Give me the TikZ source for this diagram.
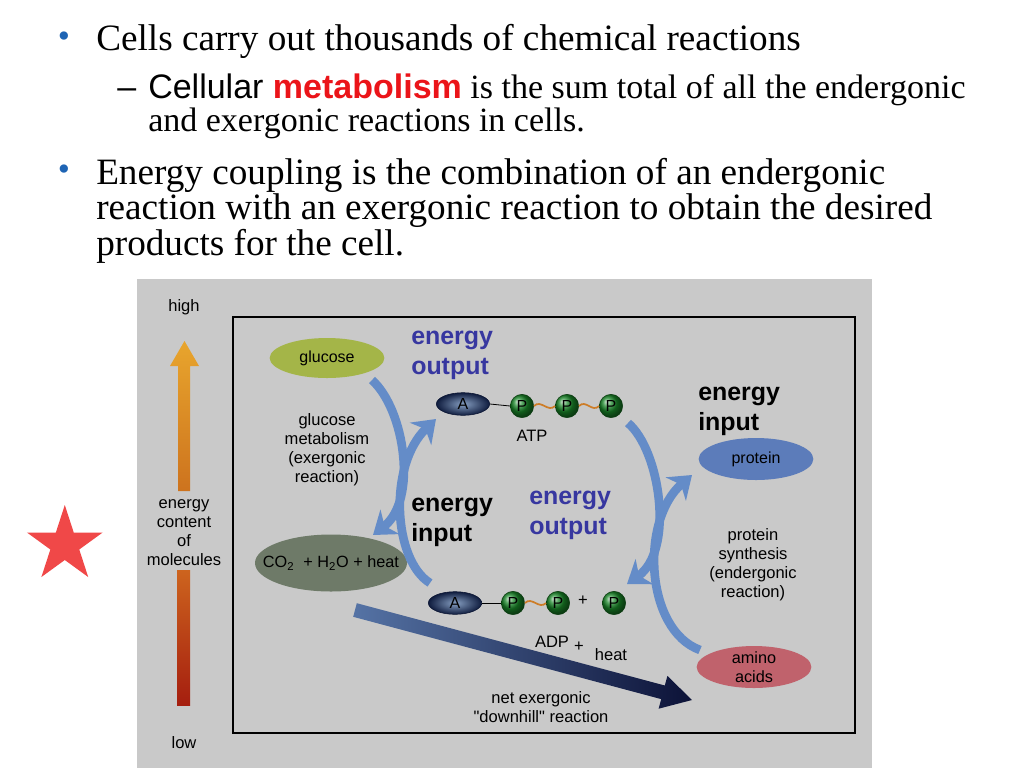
\documentclass[tikz,border=0pt]{standalone}
\usepackage{fontspec}
\setmainfont{Liberation Serif}
\newfontfamily\arial{Liberation Sans}
\usetikzlibrary{shapes.geometric,arrows.meta,calc}
\definecolor{panel}{RGB}{201,201,201}
\definecolor{bulletblue}{RGB}{30,100,180}
\definecolor{metared}{RGB}{235,20,25}
\definecolor{eblue}{RGB}{55,55,160}
\definecolor{flowblue}{RGB}{100,140,200}
\definecolor{glucosecol}{RGB}{164,181,72}
\definecolor{cocol}{RGB}{110,122,104}
\definecolor{proteincol}{RGB}{92,124,186}
\definecolor{aminocol}{RGB}{192,98,108}
\definecolor{starcol}{RGB}{240,72,72}
\definecolor{wavecol}{RGB}{205,125,40}
\definecolor{pgreen}{RGB}{25,135,40}
\begin{document}
\begin{tikzpicture}[x=0.75pt,y=-0.75pt,
  bigtxt/.style={anchor=base west,inner sep=0pt,font=\fontsize{27.9}{30}\selectfont},
  subtxt/.style={anchor=base west,inner sep=0pt,font=\fontsize{25.5}{27}\selectfont},
  bul/.style={anchor=center,inner sep=0pt,text=bulletblue,font=\fontsize{26}{26}\selectfont},
  lbl/.style={anchor=base,inner sep=0pt,font=\arial\fontsize{12.4}{14}\selectfont},
  elab/.style={anchor=base west,inner sep=0pt,font=\arial\bfseries\fontsize{18.7}{20}\selectfont},
  blob/.style={ellipse,inner sep=0pt,font=\arial\fontsize{12}{13}\selectfont},
  anode/.style={ellipse,inner sep=0pt,minimum width=40pt,minimum height=17pt,
     inner color={rgb,255:red,135;green,160;blue,195},outer color={rgb,255:red,15;green,28;blue,62},
     draw={rgb,255:red,10;green,20;blue,50},font=\arial\fontsize{12}{12}\selectfont},
  pnode/.style={circle,inner sep=0pt,minimum size=17.5pt,ball color=pgreen,
     draw={rgb,255:red,10;green,60;blue,15},line width=0.4pt,
     font=\arial\fontsize{12}{12}\selectfont},
  flow/.style={line width=6.5pt,draw=flowblue,-{Stealth[length=16pt,width=23pt,inset=5pt]}},
  link/.style={line width=0.6pt,draw=black},
  wave/.style={line width=1.3pt,draw=wavecol}]
\useasboundingbox (0,0) rectangle (1024,768);
\fill[white] (0,0) rectangle (1024,768);

% ---------- text ----------
\node[bul] (b1) at (64,40) {•};
\node[bigtxt] (t1) at (96,50) {Cells carry out thousands of chemical reactions};
\node[anchor=base west,inner sep=0pt,font=\arial\fontsize{25.5}{27}\selectfont] (d1) at (117,98) {–};
\node[subtxt] (t2) at (148,98) {{\arial Cellular \textcolor{metared}{\bfseries metabolism}} is the sum total of all the endergonic};
\node[subtxt] (t3) at (148,131) {and exergonic reactions in cells.};
\node[bul] (b2) at (64,173) {•};
\node[bigtxt] (t4) at (96,184) {Energy coupling is the combination of an endergonic};
\node[bigtxt] (t5) at (96,219) {reaction with an exergonic reaction to obtain the desired};
\node[bigtxt] (t6) at (96,255) {products for the cell.};

% ---------- panel ----------
\fill[panel] (137,279) rectangle (872,768);
\draw[line width=0.9pt] (233,317) rectangle (855,733);

% energy scale
\node[lbl] (high) at (184,311) {high};
\node[lbl] (low) at (184,748) {low};
\shade[top color={rgb,255:red,232;green,165;blue,45},bottom color={rgb,255:red,205;green,115;blue,30}]
  (178,491) -- (178,366) -- (170,366) -- (184.5,341) -- (199,366) -- (190,366) -- (190,491) -- cycle;
\shade[top color={rgb,255:red,205;green,100;blue,30},bottom color={rgb,255:red,165;green,30;blue,15}]
  (177,570) rectangle (190,705);
\node[lbl] (ec1) at (184,508) {energy};
\node[lbl] (ec2) at (184,527) {content};
\node[lbl] (ec3) at (184,546) {of};
\node[lbl] (ec4) at (184,565) {molecules};

% molecules
\node[blob,fill=glucosecol,minimum width=86pt,minimum height=30pt] (glucose) at (327,358) {glucose};
\node[blob,fill=cocol,minimum width=114pt,minimum height=42.75pt] (co2) at (331,563) {};
\node[lbl,anchor=center,font=\arial\fontsize{12.2}{13}\selectfont] (co2txt) at (co2.center) {CO\textsubscript{2}\ \ + H\textsubscript{2}O + heat};
\node[blob,fill=proteincol,minimum width=86pt,minimum height=31.5pt] (protein) at (756,459) {protein};
\node[blob,fill=aminocol,minimum width=86pt,minimum height=31.5pt] (amino) at (754,667) {};
\node[lbl,anchor=center,align=center,font=\arial\fontsize{12.2}{14}\selectfont] (aminotxt) at (amino.center) {amino\\acids};

% reaction labels
\node[lbl] (gm1) at (327,425) {glucose};
\node[lbl] (gm2) at (327,444) {metabolism};
\node[lbl] (gm3) at (327,463) {(exergonic};
\node[lbl] (gm4) at (327,482) {reaction)};
\node[lbl] (ps1) at (753,540) {protein};
\node[lbl] (ps2) at (753,559) {synthesis};
\node[lbl] (ps3) at (753,578) {(endergonic};
\node[lbl] (ps4) at (753,597) {reaction)};
\node[lbl] (ne1) at (541,703) {net exergonic};
\node[lbl] (ne2) at (541,722) {"downhill" reaction};

% energy labels
\node[elab,text=eblue] (eo1) at (411,344) {energy};
\node[elab,text=eblue] (eo2) at (411,374) {output};
\node[elab] (ei1) at (698,400) {energy};
\node[elab] (ei2) at (698,430) {input};
\node[elab] (ei3) at (411,511) {energy};
\node[elab] (ei4) at (411,541) {input};
\node[elab,text=eblue] (eo3) at (529,504) {energy};
\node[elab,text=eblue] (eo4) at (529,534) {output};

% ATP
\node[anode] (atpA) at (463,404) {A};
\node[pnode] (atpP1) at (522,406) {P};
\node[pnode] (atpP2) at (567,406) {P};
\node[pnode] (atpP3) at (611,406) {P};
\draw[link] (atpA.east) -- (atpP1.west);
\draw[wave] (atpP1.east) .. controls +(7,-7) and +(-7,7) .. (atpP2.west);
\draw[wave] (atpP2.east) .. controls +(7,-7) and +(-7,7) .. (atpP3.west);
\node[lbl] (atp) at (532,441) {ATP};

% ADP
\node[anode] (adpA) at (455,603) {A};
\node[pnode] (adpP1) at (513,603) {P};
\node[pnode] (adpP2) at (558,603) {P};
\node[lbl,anchor=center] (plus1) at (583,601) {+};
\node[pnode] (adpP3) at (614,603) {P};
\draw[link] (adpA.east) -- (adpP1.west);
\draw[wave] (adpP1.east) .. controls +(7,-7) and +(-7,7) .. (adpP2.west);
\node[lbl] (adp) at (552,647) {ADP};
\node[lbl,anchor=center] (plus2) at (579,647) {+};
\node[lbl] (heat) at (611,660) {heat};

% flow arcs
\coordinate (g1) at (372,380);
\coordinate (c1) at (373,535);
\coordinate (d1s) at (430,583);
\coordinate (a1) at (436,419);
\coordinate (t3s) at (628,423);
\coordinate (d3) at (627,584);
\coordinate (m1) at (700,650);
\coordinate (p1) at (692,475);
\draw[flow] (g1) .. controls (405,410) and (418,500) .. (c1);
\draw[flow] (d1s) .. controls (393,560) and (388,465) .. (a1);
\draw[flow] (t3s) .. controls (660,450) and (675,550) .. (d3);
\draw[flow] (m1) .. controls (645,630) and (640,520) .. (p1);

% net downhill arrow
\shade[left color={rgb,255:red,85;green,115;blue,165},right color={rgb,255:red,12;green,18;blue,55}]
  (356.8,603.2) -- (664.8,685.5) -- (667.4,675.9) -- (692,700) -- (658.6,708.7) -- (661.2,699.1) -- (353.2,616.8) -- cycle;

% star
\node[star,star points=5,star point ratio=2.618,minimum size=59.7pt,inner sep=0pt,fill=starcol] (starmark) at (64.8,544.8) {};
\end{tikzpicture}
\end{document}
